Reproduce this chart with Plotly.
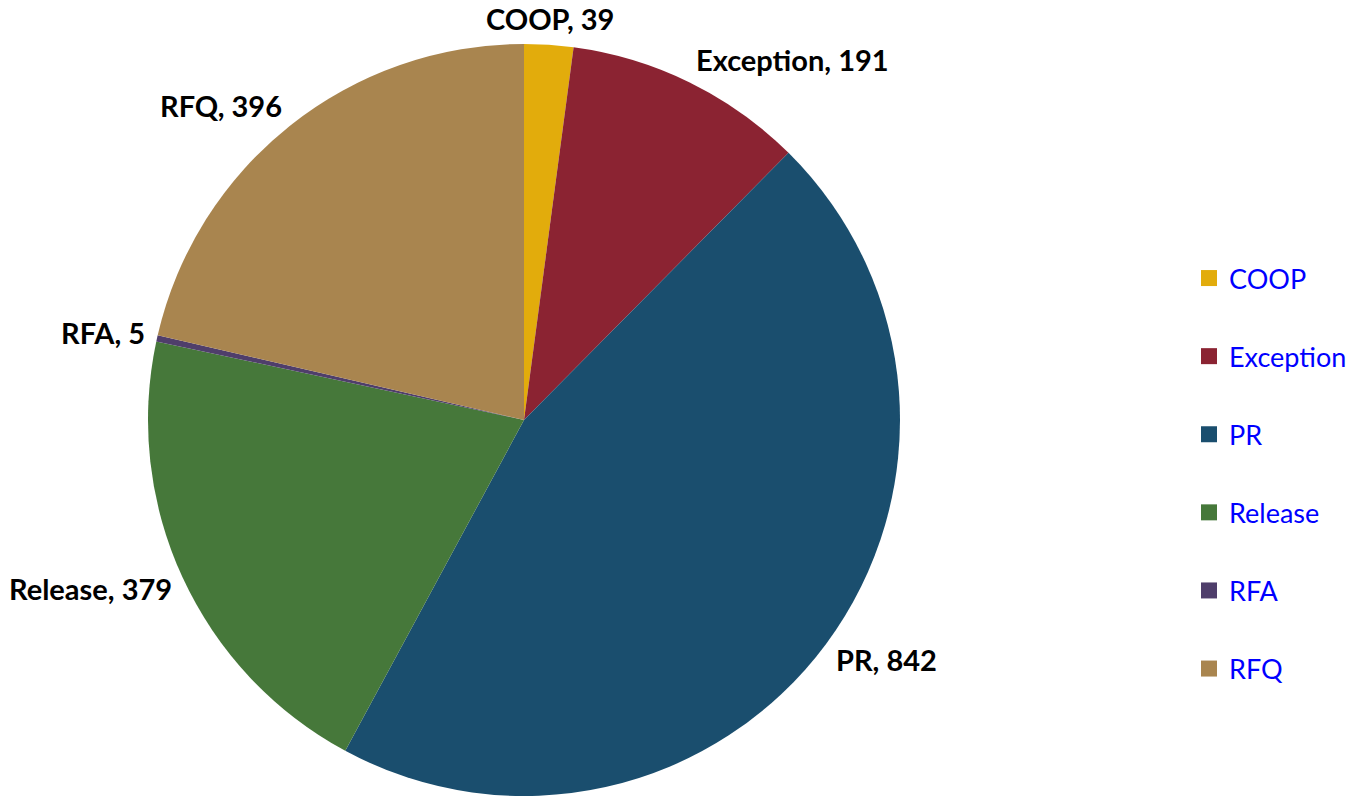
import math
import plotly.graph_objects as go

categories = ["COOP", "Exception", "PR", "Release", "RFA", "RFQ"]
values = [39, 191, 842, 379, 5, 396]
colors = ["#E2AC0C", "#8B2332", "#1A4E6E", "#46783A", "#4F3E6B", "#A9854F"]

W, H = 1361, 796
cx, cy, R = 524, 420, 376
GAP = 10
FS = 29

fig = go.Figure()
fig.add_trace(go.Pie(
    labels=categories, values=values, sort=False, direction="clockwise", rotation=0,
    marker=dict(colors=colors, line=dict(width=0)),
    textinfo="none", showlegend=False, hoverinfo="label+value",
    domain=dict(x=[(cx - R) / W, (cx + R) / W], y=[max(0, (H - cy - R) / H), (H - cy + R) / H]),
))

# data labels placed outside each slice, at its mid-angle
total = sum(values)
cum = 0
for cat, v in zip(categories, values):
    theta = 2 * math.pi * (cum + v / 2) / total
    cum += v
    s, c = math.sin(theta), math.cos(theta)
    r = R + GAP
    px = cx + r * s
    py = cy - r * c
    if abs(s) < 0.2:
        xanchor = "center"
    elif s > 0:
        xanchor = "left"
    else:
        xanchor = "right"
    py_center = py - (FS * 0.55) * c
    fig.add_annotation(
        x=px / W, y=1 - py_center / H, xref="paper", yref="paper",
        text=f"{cat}, {v}", showarrow=False, xanchor=xanchor, yanchor="middle",
        font=dict(family="Lato", size=FS, color="black", weight="bold"),
    )

for cat, col in zip(categories, colors):
    fig.add_trace(go.Scatter(
        x=[None], y=[None], mode="markers", name=cat, legendgroup=cat,
        marker=dict(symbol="square", size=18, color=col), showlegend=True,
    ))

fig.update_layout(
    width=W, height=H, margin=dict(l=0, r=0, t=0, b=0, autoexpand=False),
    paper_bgcolor="white", plot_bgcolor="white",
    xaxis=dict(visible=False), yaxis=dict(visible=False),
    legend=dict(x=1189 / W, y=1 - 254 / H, xanchor="left", yanchor="top",
                font=dict(family="Lato", size=27, color="#0000FF"),
                tracegroupgap=40, itemsizing="trace"),
)
fig.write_html("out.html", config={"displayModeBar": False},
               post_script="document.body.style.margin='0';")
